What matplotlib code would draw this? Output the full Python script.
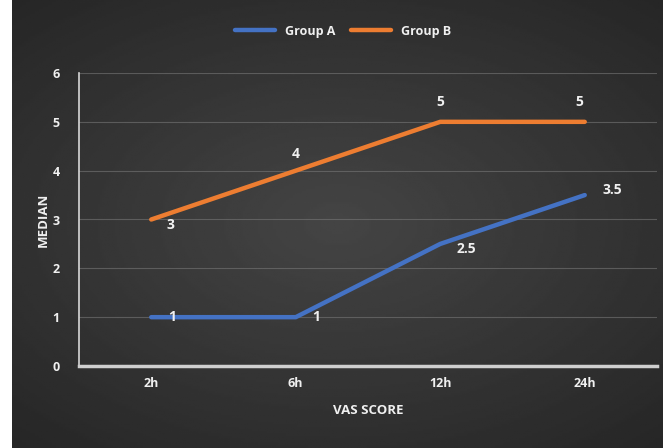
import matplotlib.pyplot as plt
import numpy as np

categories = ["2h", "6h", "12h", "24h"]
group_a = [1, 1, 2.5, 3.5]
group_b = [3, 4, 5, 5]
a_labels = ["1", "1", "2.5", "3.5"]
b_labels = ["3", "4", "5", "5"]

BLUE = "#4472C4"
ORANGE = "#ED7D31"
TEXT = "#f0f0f0"

plt.rcParams["font.family"] = ["Open Sans", "DejaVu Sans"]

fig = plt.figure(figsize=(6.63, 4.48), dpi=100)
fig.patch.set_facecolor("white")

# dark gradient background (left strip stays white)
bg = fig.add_axes([12 / 663, 0, 1 - 12 / 663, 1], zorder=0)
xx = np.linspace(-1, 1, 300)
yy = np.linspace(-1, 1, 200)
X, Y = np.meshgrid(xx, yy)
shade = 0.27 - 0.10 * np.sqrt((X * 0.8) ** 2 + (Y * 0.9) ** 2)
bg.imshow(shade, cmap="gray", vmin=0, vmax=1, aspect="auto", extent=[0, 1, 0, 1])
bg.set_axis_off()

ax = fig.add_axes([79 / 663, 82 / 448, 578 / 663, 293 / 448], zorder=1)
ax.patch.set_alpha(0)

x = np.arange(len(categories))
ax.plot(x, group_a, color=BLUE, lw=3.2, solid_capstyle="round", label="Group A")
ax.plot(x, group_b, color=ORANGE, lw=3.2, solid_capstyle="round", label="Group B")

a_offsets = [(12, 0), (12, 0), (12, -4), (13, 4)]
for xi, yi, lab, off in zip(x, group_a, a_labels, a_offsets):
    ax.annotate(lab, (xi, yi), xytext=off, textcoords="offset points",
                ha="left" if off[0] > 10 else "center", va="center",
                color=TEXT, fontsize=10, fontweight="bold")

b_offsets = [(14, -4), (0, 12), (0, 14), (-4, 14)]
for xi, yi, lab, off in zip(x, group_b, b_labels, b_offsets):
    ax.annotate(lab, (xi, yi), xytext=off, textcoords="offset points",
                ha="center", va="center",
                color=TEXT, fontsize=10, fontweight="bold")

ax.set_xlim(-0.5, len(categories) - 0.5)
ax.set_ylim(0, 6)
ax.set_xticks(x)
ax.set_xticklabels(categories)
ax.set_yticks(range(7))
ax.tick_params(colors=TEXT, length=0, labelsize=9, pad=8)
for lab in ax.get_xticklabels() + ax.get_yticklabels():
    lab.set_fontweight("bold")
ax.yaxis.set_tick_params(pad=14)
ax.grid(axis="y", color="#777777", lw=0.8, alpha=0.6)
ax.set_axisbelow(True)

for side in ["top", "right"]:
    ax.spines[side].set_visible(False)
ax.spines["left"].set_color("#d8d8d8")
ax.spines["left"].set_linewidth(1.2)
ax.spines["bottom"].set_color("#cfcfcf")
ax.spines["bottom"].set_linewidth(2.5)

ax.set_xlabel("VAS SCORE", color=TEXT, fontsize=9.5, fontweight="bold", labelpad=10)
ax.set_ylabel("MEDIAN", color=TEXT, fontsize=9.5, fontweight="bold", labelpad=2)

leg = fig.legend(loc="center", bbox_to_anchor=(343 / 663, 1 - 31 / 448), ncol=2,
                 frameon=False, handlelength=3.2, columnspacing=1.2,
                 prop={"weight": "bold", "size": 9})
for t in leg.get_texts():
    t.set_color(TEXT)

fig.savefig("out.png", dpi=100)
